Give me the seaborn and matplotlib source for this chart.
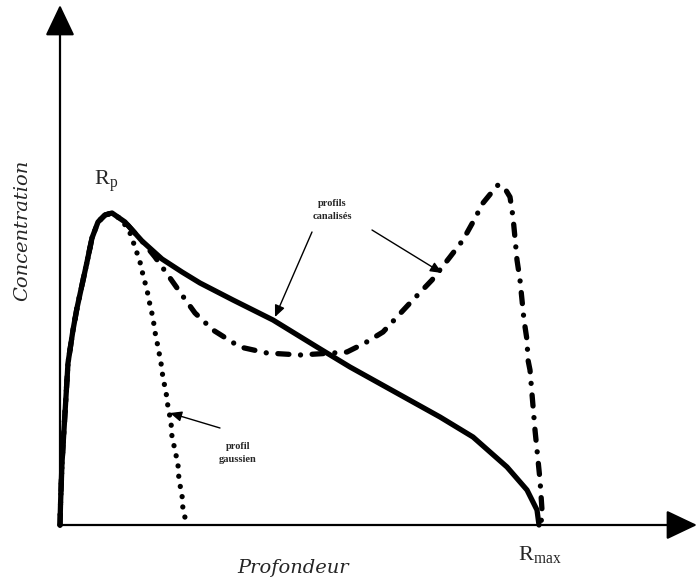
import matplotlib
matplotlib.use("Agg")
import matplotlib.pyplot as plt
import seaborn as sns
import pandas as pd

# ---- data (depth, concentration) ----
rise_depth = [0, 0.5, 2, 5, 8, 13, 17, 22, 27, 32, 38, 45, 52]
rise_conc = [0, 20, 62, 112, 162, 195, 217, 240, 263, 287, 303, 310, 312]

solid_depth = rise_depth + [65, 82, 102, 122, 140, 173, 213, 257, 290, 335, 380, 413, 447, 467, 477, 479]
solid_conc = rise_conc + [303, 284, 266, 253, 242, 225, 205, 178, 158, 133, 108, 88, 58, 35, 15, 0]

canal_depth = rise_depth + [65, 82, 95, 110, 122, 135, 153, 180, 207, 240, 273, 287, 305, 323, 350, 372, 390,
                            403, 413, 423, 432, 438, 444, 450, 453, 455, 457, 460, 462, 464, 467, 468, 470,
                            475, 480, 482, 481]
canal_conc = rise_conc + [303, 284, 268, 247, 230, 212, 195, 178, 172, 170, 172, 173, 182, 193, 222, 245, 268,
                          285, 303, 322, 333, 340, 338, 328, 308, 287, 265, 245, 225, 205, 185, 165, 155,
                          95, 45, 15, 0]

gauss_depth = rise_depth + [62, 70, 75, 80, 83, 87, 90, 93, 95, 98, 101, 103, 106, 108, 111, 112, 115, 118,
                            119, 122, 123, 127]
gauss_conc = rise_conc + [305, 292, 278, 263, 250, 235, 220, 207, 193, 178, 162, 147, 133, 118, 103, 88, 75,
                          60, 45, 30, 15, 0]

x_label = "Profondeur"
y_label = "Concentration"
label_canal = "profils\ncanalisés"
label_gauss = "profil\ngaussien"
label_rp = r"R$_{\mathrm{p}}$"
label_rmax = r"R$_{\mathrm{max}}$"

sns.set_theme(style="white")
plt.rcParams["font.family"] = ["Liberation Serif", "DejaVu Serif"]
plt.rcParams["mathtext.fontset"] = "custom"
plt.rcParams["mathtext.rm"] = "Liberation Serif"

fig = plt.figure(figsize=(6.97, 5.82), dpi=100)
ax = fig.add_axes([0, 0, 1, 1])
ax.set_xlim(-60, 637)
ax.set_ylim(-57, 525)
ax.axis("off")

df_s = pd.DataFrame({"x": solid_depth, "y": solid_conc})
df_c = pd.DataFrame({"x": canal_depth, "y": canal_conc})
df_g = pd.DataFrame({"x": gauss_depth, "y": gauss_conc})

lw = 3.8
sns.lineplot(data=df_g, x="x", y="y", ax=ax, sort=False, estimator=None, color="black",
             lw=lw, linestyle=(0, (0.01, 1.95)), dash_capstyle="round", solid_capstyle="round")
sns.lineplot(data=df_c, x="x", y="y", ax=ax, sort=False, estimator=None, color="black",
             lw=lw, linestyle=(0, (2.1, 2.2, 0.01, 2.2)), dash_capstyle="round",
             dash_joinstyle="round")
sns.lineplot(data=df_s, x="x", y="y", ax=ax, sort=False, estimator=None, color="black",
             lw=lw, solid_capstyle="round", solid_joinstyle="round")

# axes arrows
arrow_kw = dict(arrowstyle="-|>,head_length=0.8,head_width=0.38", mutation_scale=24,
                lw=1.6, color="#333333", shrinkA=0, shrinkB=0)
ax.annotate("", xy=(637, 0), xytext=(0, 0), arrowprops=dict(arrow_kw, fc="black", ec="black"))
ax.annotate("", xy=(0, 520), xytext=(0, 0), arrowprops=dict(arrow_kw, fc="black", ec="black"))

# texts
ax.text(233, -43, x_label, ha="center", va="center", style="italic", fontsize=14,
        family=["DejaVu Serif"])
ax.text(-38, 295, y_label, ha="center", va="center", style="italic", fontsize=14, rotation=90,
        family=["DejaVu Serif"])
ax.text(46, 343, label_rp, ha="center", va="center", fontsize=16)
ax.text(480, -30, label_rmax, ha="center", va="center", fontsize=16)
ax.text(272, 315, label_canal, ha="center", va="center", fontsize=7.5, fontweight="bold", linespacing=1.7)
ax.text(178, 72, label_gauss, ha="center", va="center", fontsize=7.5, fontweight="bold", linespacing=1.7)

ann_kw = dict(arrowstyle="-|>,head_length=0.5,head_width=0.22", mutation_scale=14, lw=1.0,
              color="black", shrinkA=0, shrinkB=0)
ax.annotate("", xy=(215, 208), xytext=(252, 293), arrowprops=ann_kw)
ax.annotate("", xy=(382, 252), xytext=(312, 295), arrowprops=ann_kw)
ax.annotate("", xy=(110, 112), xytext=(160, 97), arrowprops=ann_kw)

fig.savefig("out.png", dpi=100)
